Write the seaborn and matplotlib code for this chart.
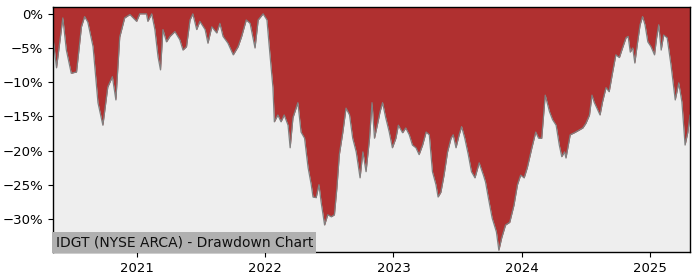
import matplotlib
matplotlib.use("Agg")
import matplotlib.pyplot as plt
import matplotlib.dates as mdates
from matplotlib.ticker import FuncFormatter
import seaborn as sns
import pandas as pd

dates = [
    "2020-05-07", "2020-05-17", "2020-06-04", "2020-06-14", "2020-06-28", "2020-07-13",
    "2020-07-27", "2020-08-05", "2020-08-14", "2020-08-29", "2020-09-12", "2020-09-26",
    "2020-10-10", "2020-10-23", "2020-11-02", "2020-11-13", "2020-11-27", "2020-12-12",
    "2020-12-31", "2021-01-09", "2021-01-28", "2021-02-01", "2021-02-12", "2021-02-21",
    "2021-03-02", "2021-03-09", "2021-03-16", "2021-03-26", "2021-04-05", "2021-04-19",
    "2021-05-03", "2021-05-12", "2021-05-22", "2021-06-01", "2021-06-09", "2021-06-20",
    "2021-06-29", "2021-07-14", "2021-07-22", "2021-08-02", "2021-08-16", "2021-08-25",
    "2021-09-03", "2021-09-17", "2021-10-02", "2021-10-16", "2021-10-26", "2021-11-08",
    "2021-11-19", "2021-12-03", "2021-12-12", "2021-12-26", "2022-01-06", "2022-01-12",
    "2022-01-23", "2022-01-27", "2022-02-06", "2022-02-15", "2022-02-24", "2022-03-07",
    "2022-03-13", "2022-03-21", "2022-04-04", "2022-04-13", "2022-04-23", "2022-05-03",
    "2022-05-12", "2022-05-17", "2022-05-26", "2022-06-03", "2022-06-09", "2022-06-19",
    "2022-06-28", "2022-07-08", "2022-07-17", "2022-07-24", "2022-07-31", "2022-08-10",
    "2022-08-19", "2022-08-29", "2022-09-07", "2022-09-17", "2022-09-28", "2022-10-06",
    "2022-10-15", "2022-10-25", "2022-11-01", "2022-11-08", "2022-11-16", "2022-11-24",
    "2022-12-01", "2022-12-10", "2022-12-20", "2022-12-29", "2023-01-08", "2023-01-15",
    "2023-01-27", "2023-02-05", "2023-02-15", "2023-02-24", "2023-03-06", "2023-03-15",
    "2023-03-25", "2023-04-04", "2023-04-13", "2023-04-22", "2023-05-02", "2023-05-08",
    "2023-05-16", "2023-05-25", "2023-06-04", "2023-06-14", "2023-06-20", "2023-06-28",
    "2023-07-07", "2023-07-14", "2023-07-23", "2023-08-02", "2023-08-11", "2023-08-21",
    "2023-09-02", "2023-09-14", "2023-09-20", "2023-09-28", "2023-10-09", "2023-10-21",
    "2023-10-28", "2023-11-05", "2023-11-16", "2023-11-28", "2023-12-10", "2023-12-20",
    "2023-12-29", "2024-01-08", "2024-01-17", "2024-01-30", "2024-02-10", "2024-02-18",
    "2024-02-27", "2024-03-08", "2024-03-20", "2024-03-29", "2024-04-08", "2024-04-17",
    "2024-04-24", "2024-05-02", "2024-05-06", "2024-05-18", "2024-05-30", "2024-06-13",
    "2024-06-23", "2024-07-02", "2024-07-12", "2024-07-19", "2024-07-25", "2024-08-02",
    "2024-08-11", "2024-08-18", "2024-08-28", "2024-09-06", "2024-09-16", "2024-09-25",
    "2024-10-05", "2024-10-14", "2024-10-24", "2024-10-30", "2024-11-05", "2024-11-12",
    "2024-11-18", "2024-11-26", "2024-12-03", "2024-12-10", "2024-12-17", "2024-12-25",
    "2025-01-03", "2025-01-13", "2025-01-19", "2025-01-25", "2025-02-01", "2025-02-08",
    "2025-02-18", "2025-03-01", "2025-03-13", "2025-03-23", "2025-04-01", "2025-04-10",
    "2025-04-18", "2025-04-24",
]

drawdown_pct = [
    -3.5, -7.9, -0.6, -5.3, -8.7, -8.5,
    -1.9, -0.4, -1.2, -4.8, -13.0, -16.3,
    -10.7, -9.2, -12.6, -3.4, -0.6, -0.1,
    -1.1, 0.0, 0.0, -1.1, 0.0, -2.3,
    -6.3, -8.2, -2.3, -4.1, -3.3, -2.6,
    -3.8, -5.3, -4.8, -0.9, 0.0, -2.3,
    -1.1, -2.3, -4.3, -1.9, -2.8, -1.4,
    -3.3, -4.3, -6.0, -4.8, -3.3, -0.9,
    -1.4, -5.0, -0.9, 0.0, -0.9, -4.5,
    -10.8, -15.8, -14.8, -15.8, -14.8, -16.3,
    -19.6, -15.2, -13.0, -17.3, -18.2, -22.5,
    -25.0, -26.8, -26.9, -25.0, -27.5, -30.9,
    -29.4, -29.7, -29.4, -25.5, -20.6, -17.3,
    -13.8, -14.8, -18.2, -20.2, -24.0, -20.2,
    -23.1, -18.2, -13.0, -18.2, -16.3, -14.3,
    -13.0, -15.2, -17.3, -19.6, -18.2, -16.3,
    -17.4, -16.7, -17.7, -19.2, -19.6, -20.6,
    -19.2, -17.3, -17.7, -23.1, -25.0, -26.8,
    -26.1, -23.6, -20.2, -18.2, -17.7, -19.6,
    -17.7, -16.5, -18.2, -20.6, -23.1, -24.0,
    -21.8, -23.6, -24.6, -26.9, -29.9, -31.9,
    -34.6, -32.8, -30.9, -30.5, -28.0, -25.0,
    -23.6, -24.0, -22.5, -19.6, -17.3, -18.2,
    -18.2, -11.9, -14.3, -15.5, -16.3, -19.2,
    -20.9, -20.2, -21.1, -17.7, -17.4, -17.0,
    -16.7, -16.0, -14.8, -11.9, -12.9, -13.8,
    -14.8, -12.9, -10.8, -11.4, -8.5, -6.0,
    -6.4, -5.0, -3.5, -3.3, -5.6, -5.0,
    -7.2, -4.1, -1.6, -0.4, -1.6, -4.1,
    -4.8, -6.0, -3.5, -1.6, -5.3, -3.1,
    -3.5, -7.5, -12.6, -10.1, -12.9, -19.2,
    -17.3, -14.8,
]

yticks = [0, -5, -10, -15, -20, -25, -30]
label_text = "IDGT (NYSE ARCA) - Drawdown Chart"

df = pd.DataFrame({"date": pd.to_datetime(dates), "dd": drawdown_pct})

sns.set_style("white")
plt.rcParams["font.family"] = ["DejaVu Sans"]

fig = plt.figure(figsize=(7, 2.8), dpi=100)
ax = fig.add_axes([0.0757, 0.1, 0.910, 0.875])
ax.set_facecolor("#EEEEEE")

y_top = 1.0
y_bot = -34.85
ax.fill_between(df["date"], df["dd"], y_top, color="#B03030", linewidth=0, zorder=1)
sns.lineplot(data=df, x="date", y="dd", ax=ax, color="#808080", linewidth=0.9, zorder=2)

ax.set_xlim(df["date"].iloc[0], df["date"].iloc[-1])
ax.set_ylim(y_bot, y_top)
ax.set_yticks(yticks)
ax.yaxis.set_major_formatter(FuncFormatter(lambda v, p: f"{v:.0f}%".replace("-", "\u2212")))
ax.xaxis.set_major_locator(mdates.YearLocator())
ax.xaxis.set_major_formatter(mdates.DateFormatter("%Y"))
ax.set_xlabel("")
ax.set_ylabel("")
ax.tick_params(axis="both", which="major", length=3.5, width=0.8, labelsize=9.5,
               left=True, bottom=True, colors="black")
for s in ax.spines.values():
    s.set_visible(True)
    s.set_color("black")
    s.set_linewidth(1.0)

ax.text(0.004, 0.012, label_text, transform=ax.transAxes, fontsize=10,
        ha="left", va="bottom", color="#111111", zorder=5,
        bbox=dict(facecolor="#B0B0B0", edgecolor="none", pad=2.5))

fig.savefig("out.png", dpi=100)
